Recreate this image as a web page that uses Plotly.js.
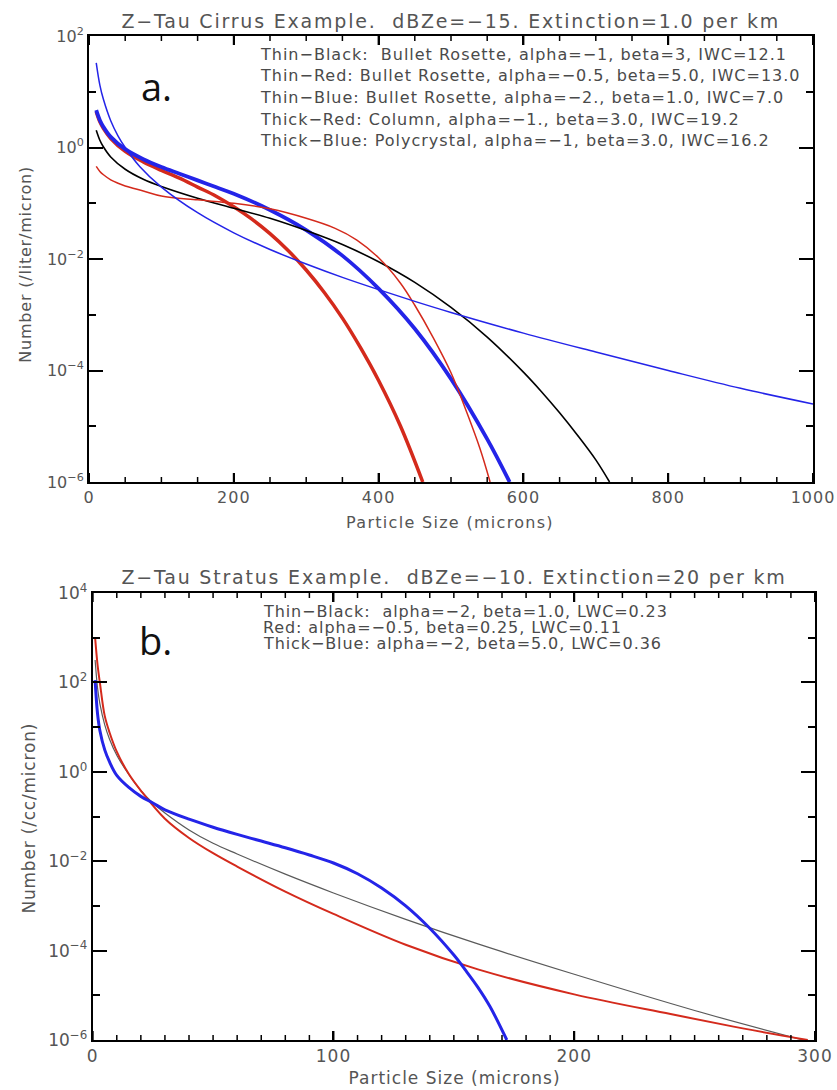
<!DOCTYPE html>
<html>
<head>
<meta charset="utf-8">
<script src="https://cdn.plot.ly/plotly-3.0.1.min.js"></script>
<style>body{margin:0;background:#fff;}</style>
</head>
<body>
<div id="chart" style="width:837px;height:1090px;"></div>
<script>
// ---------- Panel a: Cirrus ----------
const cirrusTitle = "Z\u2212Tau Cirrus Example.\u00a0\u00a0dBZe=\u221215. Extinction=1.0 per km";
const cirrusXTitle = "Particle Size (microns)";
const cirrusYTitle = "Number (/liter/micron)";
const cirrusLegend = [
  "Thin\u2212Black:\u00a0\u00a0Bullet Rosette, alpha=\u22121, beta=3, IWC=12.1",
  "Thin\u2212Red: Bullet Rosette, alpha=\u22120.5, beta=5.0, IWC=13.0",
  "Thin\u2212Blue: Bullet Rosette, alpha=\u22122., beta=1.0, IWC=7.0",
  "Thick\u2212Red: Column, alpha=\u22121., beta=3.0, IWC=19.2",
  "Thick\u2212Blue: Polycrystal, alpha=\u22121, beta=3.0, IWC=16.2"
];
const cirrusXTickVals = [0, 200, 400, 600, 800, 1000];
const cirrusXMinorVals = [50, 100, 150, 250, 300, 350, 450, 500, 550, 650, 700, 750, 850, 900, 950];
const cirrusYTickVals = [1e-6, 1e-4, 1e-2, 1, 100];
const cirrusYTickText = ["10<sup>\u22126</sup>", "10<sup>\u22124</sup>", "10<sup>\u22122</sup>", "10<sup>0</sup>", "10<sup>2</sup>"];

const thinBlackX = [10, 15, 20, 30, 50, 75, 100, 150, 200, 250, 300, 350, 400, 450, 500, 550, 600, 625, 650, 675, 700, 719];
const thinBlackY = [2.04, 1.35, 1.02, 0.676, 0.407, 0.269, 0.200, 0.123, 0.0813, 0.0537, 0.0324, 0.0182, 0.00891, 0.00380, 0.00135, 3.98e-4, 9.33e-5, 4.16e-5, 1.74e-5, 6.82e-6, 2.49e-6, 1.0e-6];

const thinRedX = [10, 15, 20, 30, 40, 50, 75, 100, 150, 200, 250, 300, 340, 370, 400, 430, 450, 475, 500, 522, 540, 554];
const thinRedY = [0.457, 0.372, 0.324, 0.263, 0.229, 0.204, 0.166, 0.135, 0.115, 0.100, 0.0794, 0.0537, 0.0355, 0.0219, 0.0105, 0.00372, 0.00148, 3.98e-4, 9.12e-5, 1.74e-5, 3.98e-6, 1.0e-6];

const thinBlueX = [10, 15, 20, 30, 40, 50, 70, 100, 150, 200, 250, 300, 350, 400, 450, 500, 600, 700, 800, 900, 1000];
const thinBlueY = [33.1, 13.2, 7.24, 3.02, 1.62, 1.0, 0.457, 0.195, 0.0676, 0.0295, 0.0148, 0.00813, 0.00468, 0.00282, 0.00174, 0.00110, 4.68e-4, 2.14e-4, 1.0e-4, 4.79e-5, 2.51e-5];

const thickRedX = [10, 15, 20, 30, 50, 75, 100, 125, 150, 175, 200, 225, 250, 275, 300, 325, 350, 375, 400, 430, 461];
const thickRedY = [4.37, 2.88, 2.19, 1.45, 0.851, 0.550, 0.389, 0.282, 0.195, 0.135, 0.0863, 0.0518, 0.0285, 0.0142, 0.00635, 0.00251, 8.71e-4, 2.57e-4, 6.61e-5, 1.02e-5, 1.0e-6];

const thickBlueX = [10, 15, 20, 30, 50, 75, 100, 125, 150, 175, 200, 250, 300, 350, 400, 450, 500, 550, 581];
const thickBlueY = [4.68, 3.09, 2.34, 1.55, 0.933, 0.617, 0.447, 0.339, 0.257, 0.195, 0.148, 0.0759, 0.0331, 0.0115, 0.00295, 5.62e-4, 7.08e-5, 5.89e-6, 1.0e-6];

// ---------- Panel b: Stratus ----------
const stratusTitle = "Z\u2212Tau Stratus Example.\u00a0\u00a0dBZe=\u221210. Extinction=20 per km";
const stratusXTitle = "Particle Size (microns)";
const stratusYTitle = "Number (/cc/micron)";
const stratusLegend = [
  "Thin\u2212Black:\u00a0\u00a0alpha=\u22122, beta=1.0, LWC=0.23",
  "Red: alpha=\u22120.5, beta=0.25, LWC=0.11",
  "Thick\u2212Blue: alpha=\u22122, beta=5.0, LWC=0.36"
];
const stratusXTickVals = [0, 100, 200, 300];
const stratusXMinorVals = [10, 20, 30, 40, 50, 60, 70, 80, 90, 110, 120, 130, 140, 150, 160, 170, 180, 190, 210, 220, 230, 240, 250, 260, 270, 280, 290];
const stratusYTickVals = [1e-6, 1e-4, 1e-2, 1, 100, 1e4];
const stratusYTickText = ["10<sup>\u22126</sup>", "10<sup>\u22124</sup>", "10<sup>\u22122</sup>", "10<sup>0</sup>", "10<sup>2</sup>", "10<sup>4</sup>"];

const sGrayX = [1, 2, 3, 5, 7, 10, 15, 20, 25, 30, 40, 50, 60, 80, 100, 130, 160, 200, 250, 295];
const sGrayY = [316, 75.9, 33.1, 11.2, 5.37, 2.34, 0.871, 0.380, 0.200, 0.120, 0.0501, 0.0251, 0.0145, 0.00513, 0.00195, 5.01e-4, 1.41e-4, 2.95e-5, 4.57e-6, 1.0e-6];

const sRedX = [1, 2, 3, 5, 7, 10, 15, 20, 30, 40, 50, 60, 80, 100, 130, 160, 200, 240, 270, 297];
const sRedY = [1000, 251, 97.7, 17.8, 7.59, 2.82, 0.891, 0.380, 0.0891, 0.0331, 0.0151, 0.00759, 0.00209, 6.61e-4, 1.35e-4, 3.80e-5, 1.05e-5, 3.80e-6, 1.82e-6, 1.0e-6];

const sBlueX = [1, 2, 3, 5, 7, 10, 15, 20, 25, 30, 40, 50, 60, 70, 80, 90, 100, 110, 120, 130, 140, 150, 155, 160, 165, 172];
const sBlueY = [112, 20.0, 8.32, 3.09, 1.66, 0.832, 0.447, 0.282, 0.200, 0.141, 0.0871, 0.0575, 0.0398, 0.0282, 0.0200, 0.0138, 0.00912, 0.00525, 0.00251, 0.00100, 3.16e-4, 7.94e-5, 3.55e-5, 1.51e-5, 5.62e-6, 1.0e-6];

// ---------- Styling ----------
const RED = "#d42a1c";
const BLUE = "#2424e8";
const FONT = "DejaVu Sans";
const TXT = "#555555";

function line(x, y, color, width, xa, ya) {
  return {x: x, y: y, type: "scatter", mode: "lines", xaxis: xa, yaxis: ya,
          line: {color: color, width: width, shape: "spline", smoothing: 1},
          hoverinfo: "skip", showlegend: false};
}

const traces = [
  line(thickRedX, thickRedY, RED, 3.5, "x", "y"),
  line(thickBlueX, thickBlueY, BLUE, 3.8, "x", "y"),
  line(thinBlackX, thinBlackY, "#000000", 1.6, "x", "y"),
  line(thinRedX, thinRedY, RED, 1.5, "x", "y"),
  line(thinBlueX, thinBlueY, BLUE, 1.5, "x", "y"),
  line(sGrayX, sGrayY, "#5a5a5a", 1.2, "x2", "y2"),
  line(sRedX, sRedY, RED, 2.0, "x2", "y2"),
  line(sBlueX, sBlueY, BLUE, 3.0, "x2", "y2")
];

const axisBase = {
  showline: true, linecolor: "#000000", linewidth: 2, mirror: "ticks",
  ticks: "inside", tickcolor: "#000000", tickwidth: 2,
  showgrid: false, zeroline: false,
  tickfont: {family: FONT, size: 16, color: TXT}
};

function paperY(py) { return (1040 - py) / 1004; }
function paperX(px) { return (px - 89) / 726; }

const annotations = [];
const spacing = [];
function addText(text, px, py, size, ls, opts) {
  annotations.push(Object.assign({
    text: text, xref: "paper", yref: "paper", x: paperX(px), y: paperY(py),
    xanchor: "center", yanchor: "middle", showarrow: false,
    font: {family: FONT, size: size, color: TXT}
  }, opts || {}));
  spacing.push(ls);
}

addText(cirrusTitle, 451, 21, 19, 1.8);
addText(stratusTitle, 454, 577, 19, 1.8);
addText(cirrusXTitle, 450, 522, 16, 1.3);
addText(stratusXTitle, 454, 1078, 17, 1.0);
addText(cirrusYTitle, 25, 265, 16, 0.8, {textangle: -90});
addText(stratusYTitle, 29, 818, 17, 0.8, {textangle: -90});

const cirrusRows = [55, 76, 98, 119, 140];
cirrusLegend.forEach((t, i) => addText(t, 258, cirrusRows[i], 16, 1.0,
  {xanchor: "left", align: "left", font: {family: FONT, size: 16, color: "#4a4a4a"}}));
const stratusRows = [612, 627.5, 643];
stratusLegend.forEach((t, i) => addText(t, 261, stratusRows[i], 16, 0.9,
  {xanchor: "left", align: "left", font: {family: FONT, size: 16, color: "#4a4a4a"}}));

addText("a.", 139, 86, 38, 0, {xanchor: "left", font: {family: "Open Sans", size: 38, color: "#111"}});
addText("b.", 137, 640, 38, 0, {xanchor: "left", font: {family: "Open Sans", size: 38, color: "#111"}});

// letter spacing to mimic the wide plotting font of the original
const css = spacing.map((s, i) => s ? `g.annotation[data-index="${i}"] text{letter-spacing:${s}px;}` : "").join("\n")
  + "\n.xtick text,.x2tick text{letter-spacing:1px;}";
const st = document.createElement("style");
st.textContent = css;
document.head.appendChild(st);

// x-axis tick marks (bottom and mirrored top), placed through the axis scale
const shapes = [];
function xTicks(vals, xref, yref, lenFrac, width) {
  vals.forEach(v => {
    shapes.push({type: "line", xref: xref, yref: yref, x0: v, x1: v, y0: 0, y1: lenFrac,
                 line: {color: "#000000", width: width}, layer: "above"});
    shapes.push({type: "line", xref: xref, yref: yref, x0: v, x1: v, y0: 1, y1: 1 - lenFrac,
                 line: {color: "#000000", width: width}, layer: "above"});
  });
}
xTicks(cirrusXTickVals, "x", "y domain", 9 / 446, 2);
xTicks(cirrusXMinorVals, "x", "y domain", 5 / 446, 1.5);
xTicks(stratusXTickVals, "x2", "y2 domain", 9 / 447, 2);
xTicks(stratusXMinorVals, "x2", "y2 domain", 5 / 447, 1.5);

const minorY = {ticklen: 7, tickcolor: "#000000", tickwidth: 2, ticks: "inside", tickmode: "linear", tick0: 0, dtick: 1};

const layout = {
  width: 837, height: 1090,
  margin: {l: 89, r: 22, t: 36, b: 50},
  paper_bgcolor: "#fff", plot_bgcolor: "#fff",
  showlegend: false,
  xaxis: Object.assign({}, axisBase, {
    domain: [0, 724 / 726], range: [0, 1000], anchor: "y",
    tickmode: "array", tickvals: cirrusXTickVals, ticklen: 9
  }),
  yaxis: Object.assign({}, axisBase, {
    domain: [paperY(482), 1], type: "log", range: [-6, 2], anchor: "x",
    tickmode: "array", tickvals: cirrusYTickVals, ticktext: cirrusYTickText,
    ticklen: 14,
    minor: minorY
  }),
  xaxis2: Object.assign({}, axisBase, {
    domain: [3.7 / 726, 1], range: [0, 300], anchor: "y2",
    tickmode: "array", tickvals: stratusXTickVals, ticklen: 9,
    tickfont: {family: FONT, size: 17, color: TXT}
  }),
  yaxis2: Object.assign({}, axisBase, {
    domain: [0, paperY(593)], type: "log", range: [-6, 4], anchor: "x2",
    tickmode: "array", tickvals: stratusYTickVals, ticktext: stratusYTickText,
    ticklen: 14,
    tickfont: {family: FONT, size: 17, color: TXT},
    minor: minorY
  }),
  shapes: shapes,
  annotations: annotations
};

Plotly.newPlot("chart", traces, layout, {staticPlot: true, displayModeBar: false});
</script>
</body>
</html>
